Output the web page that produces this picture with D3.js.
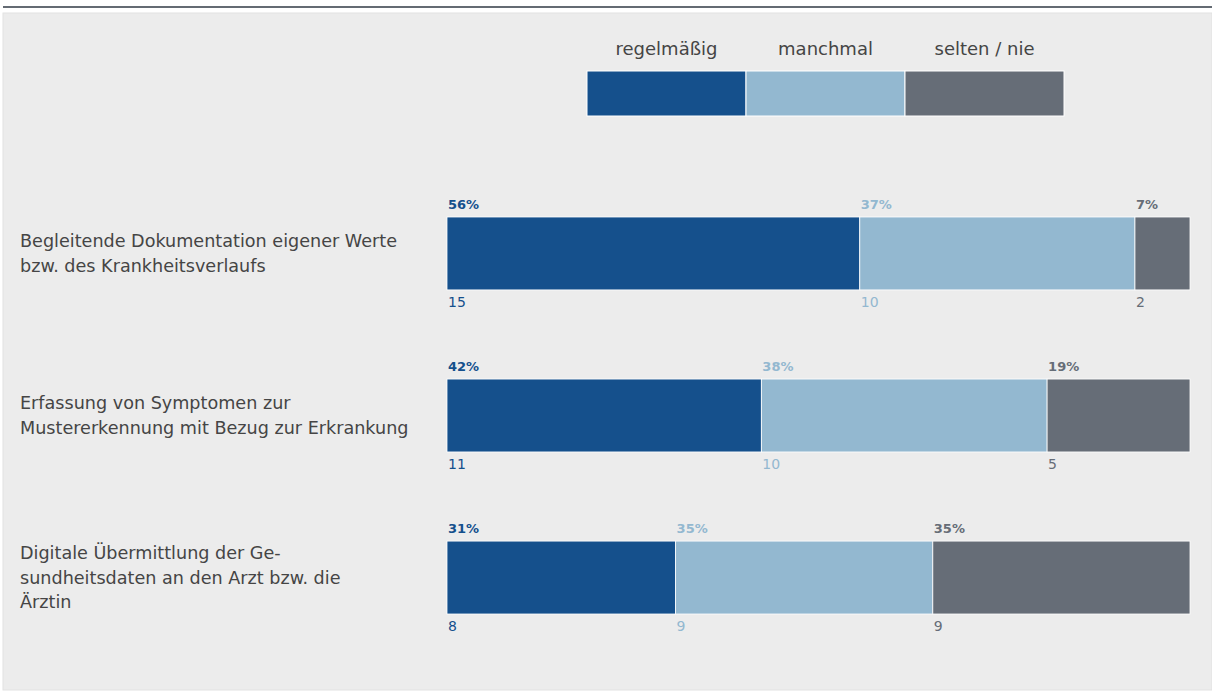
<!DOCTYPE html>
<html>
<head>
<meta charset="utf-8">
<script src="https://cdn.jsdelivr.net/npm/d3@7"></script>
<style>
  body { margin: 0; background: #fff; }
  text { font-family: "DejaVu Sans", sans-serif; }
</style>
</head>
<body>
<script>
// Data
var categories = ["regelmäßig", "manchmal", "selten / nie"];
var colors = ["#15508c", "#93b8d0", "#666d77"];

var items = [
  ["Begleitende Dokumentation eigener Werte", "bzw. des Krankheitsverlaufs"],
  ["Erfassung von Symptomen zur", "Mustererkennung mit Bezug zur Erkrankung"],
  ["Digitale Übermittlung der Ge-", "sundheitsdaten an den Arzt bzw. die", "Ärztin"]
];
var counts = [[15, 10, 2], [11, 10, 5], [8, 9, 9]];
var percents = [[56, 37, 7], [42, 38, 19], [31, 35, 35]];

var width = 1212, height = 691;

var svg = d3.select("body").append("svg")
    .attr("width", width)
    .attr("height", height);

// top rule and panel
svg.append("rect").attr("x", 3).attr("y", 6).attr("width", width - 3).attr("height", 2).attr("fill", "#646b73");
svg.append("rect").attr("x", 3).attr("y", 13).attr("width", width - 3).attr("height", 677)
    .attr("fill", "#ececec").attr("stroke", "#e2e2e2");

// legend
var legendX = d3.scaleBand().domain(categories).range([587, 1064]);
var legend = svg.append("g");
legend.selectAll("rect")
    .data(categories)
    .enter()
    .append("rect")
    .attr("x", function(d) { return legendX(d); })
    .attr("y", 71)
    .attr("width", legendX.bandwidth())
    .attr("height", 45)
    .attr("fill", function(d, i) { return colors[i]; })
    .attr("stroke", "#fff")
    .attr("stroke-width", 1);
legend.selectAll("text")
    .data(categories)
    .enter()
    .append("text")
    .attr("x", function(d) { return legendX(d) + legendX.bandwidth() / 2; })
    .attr("y", 55)
    .attr("text-anchor", "middle")
    .style("font-size", "18px")
    .style("fill", "#454545")
    .text(function(d) { return d; });

// bars
var y = d3.scaleBand().domain(d3.range(items.length)).range([217, 614]).paddingInner(0.55).paddingOuter(0);
var x = d3.scaleLinear().range([447, 1190]);

var rows = svg.selectAll("g.row")
    .data(items)
    .enter()
    .append("g")
    .attr("class", "row");

rows.each(function(lines, i) {
  var g = d3.select(this);
  var total = d3.sum(counts[i]);
  x.domain([0, total]);
  var cum = 0;
  var segs = counts[i].map(function(c, j) {
    var s = {start: cum, value: c, pct: percents[i][j], color: colors[j]};
    cum += c;
    return s;
  });
  var top = y(i), bh = y.bandwidth();

  g.selectAll("rect")
      .data(segs)
      .enter()
      .append("rect")
      .attr("x", function(d) { return x(d.start); })
      .attr("y", top)
      .attr("width", function(d) { return x(d.start + d.value) - x(d.start); })
      .attr("height", bh)
      .attr("fill", function(d) { return d.color; })
      .attr("stroke", "#fff")
      .attr("stroke-width", 0.8);

  g.selectAll("text.pct")
      .data(segs)
      .enter()
      .append("text")
      .attr("class", "pct")
      .attr("x", function(d) { return x(d.start) + 1; })
      .attr("y", top - 8)
      .style("font-size", "13px")
      .style("font-weight", "bold")
      .style("fill", function(d) { return d.color; })
      .text(function(d) { return d.pct + "%"; });

  g.selectAll("text.cnt")
      .data(segs)
      .enter()
      .append("text")
      .attr("class", "cnt")
      .attr("x", function(d) { return x(d.start) + 1; })
      .attr("y", top + bh + 17)
      .style("font-size", "14px")
      .style("fill", function(d) { return d.color; })
      .text(function(d) { return d.value; });

  var lh = 24.5;
  var cy = top + bh / 2 - (lines.length - 1) * lh / 2;
  g.append("text")
      .attr("x", 20)
      .attr("y", cy + 6)
      .style("font-size", "17.6px")
      .style("fill", "#454545")
      .selectAll("tspan")
      .data(lines)
      .enter()
      .append("tspan")
      .attr("x", 20)
      .attr("dy", function(d, k) { return k === 0 ? 0 : lh; })
      .text(function(d) { return d; });
});
</script>
</body>
</html>
